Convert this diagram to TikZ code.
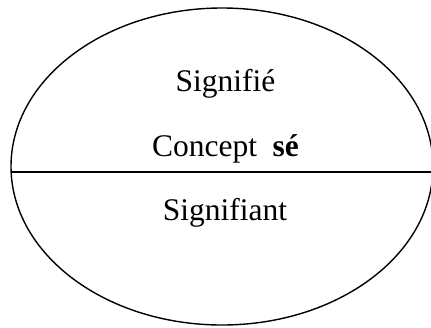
\documentclass[tikz,border=0pt]{standalone}
\usepackage{fontspec}
\setmainfont{Liberation Serif}
\begin{document}
\begin{tikzpicture}[x=1pt,y=-1pt,
        word/.style={font=\fontsize{31.5}{38}\selectfont, inner sep=0pt, anchor=base}]
        % Fix the frame
        \useasboundingbox (0,0) rectangle (431,327);
        \clip (0,0) rectangle (431,327);

        % Define the ellipse
        \draw[line width=1.4pt] (222,166.5) ellipse [x radius=211, y radius=158.5];

        % Dividing bar
        \coordinate (barL) at (11.1,172);
        \coordinate (barR) at (431,172);
        \draw[line width=2.2pt] (barL) -- (barR);

        % Labels
        \node[word] (signifie) at (225.5,91) {Signifié};
        \node[word] (concept) at (225.5,156) {Concept\ \ \textbf{sé}};
        \node[word] (signifiant) at (225,220) {Signifiant};
\end{tikzpicture}
\end{document}
